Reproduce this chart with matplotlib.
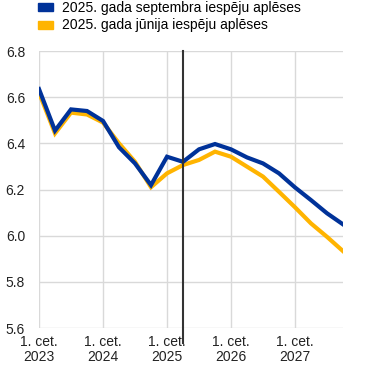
import numpy as np
import matplotlib.pyplot as plt
from matplotlib.patches import Patch

quarters = list(range(20))  # 2023 Q1 .. 2027 Q4
sept = [6.635, 6.455, 6.547, 6.540, 6.497, 6.383, 6.313, 6.219, 6.342, 6.320,
        6.374, 6.397, 6.374, 6.339, 6.313, 6.270, 6.209, 6.154, 6.097, 6.049]
june = [6.620, 6.443, 6.533, 6.525, 6.490, 6.400, 6.320, 6.210, 6.270, 6.306,
        6.328, 6.364, 6.342, 6.299, 6.256, 6.190, 6.123, 6.053, 5.995, 5.933]
tick_pos = [0, 4, 8, 12, 16]
tick_labels = ['1. cet.\n2023', '1. cet.\n2024', '1. cet.\n2025', '1. cet.\n2026', '1. cet.\n2027']
cut = 9

plt.rcParams['font.family'] = ['Liberation Sans', 'DejaVu Sans']

fig = plt.figure(figsize=(3.72, 3.73), dpi=100)
ax = fig.add_axes([39/372, 1 - 328/373, 304/372, 277/373])

ax.plot(quarters, june, color='#FFB400', lw=3.0, solid_joinstyle='miter')
ax.plot(quarters, sept, color='#003299', lw=3.0, solid_joinstyle='miter')

ax.plot([cut, cut], [5.6 - 0.065, 6.8], color='#333333', lw=1.5, clip_on=False, zorder=5)

ax.set_xlim(0, 19)
ax.set_ylim(5.6, 6.8)
ax.set_yticks(np.arange(5.6, 6.81, 0.2))
ax.set_yticklabels([f'{v:.1f}' for v in np.arange(5.6, 6.81, 0.2)])
ax.set_xticks(tick_pos)
ax.set_xticklabels(tick_labels, linespacing=1.1)
ax.tick_params(length=0, labelsize=10, colors='#222222')
ax.tick_params(axis='x', pad=5)
ax.tick_params(axis='y', pad=10)
ax.grid(True, color='#d9d9d9', lw=1)
ax.set_axisbelow(True)
for s in ax.spines.values():
    s.set_visible(False)

handles = [Patch(color='#003299'), Patch(color='#FFB400')]
labels = ['2025. gada septembra iespēju aplēses', '2025. gada jūnija iespēju aplēses']
fig.legend(handles, labels, loc='upper left', bbox_to_anchor=(38/372, 1 - 1/373), frameon=False,
           fontsize=10, handlelength=1.1, handleheight=0.5, handletextpad=0.6, labelspacing=0.25,
           borderaxespad=0, borderpad=0)

fig.savefig('out.png', dpi=100)
